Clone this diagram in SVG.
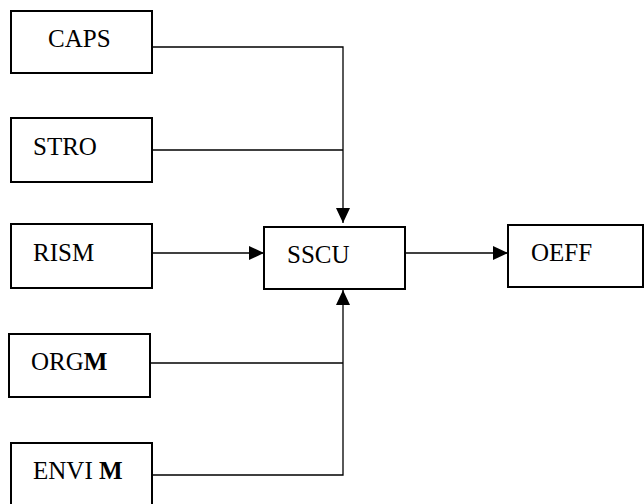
<svg xmlns="http://www.w3.org/2000/svg" width="644" height="504" viewBox="0 0 644 504">
<style>
.box{fill:#fff;stroke:#000;stroke-width:2}
.lbl{font-family:"Liberation Serif","Times New Roman",serif;font-size:25px;fill:#000}
.con{fill:none;stroke:#000;stroke-width:1.3}
</style>
<defs>
<marker id="ah" markerUnits="userSpaceOnUse" markerWidth="16" markerHeight="15" refX="15" refY="7" orient="auto">
<path d="M0,0 L15,7 L0,14 z" fill="#000"/>
</marker>
</defs>
<rect width="644" height="504" fill="#fff"/>
<g id="connectors">
<path class="con" d="M152 47 H343 V223" marker-end="url(#ah)"/>
<path class="con" d="M152 150 H343"/>
<path class="con" d="M152 253 H264" marker-end="url(#ah)"/>
<path class="con" d="M150 363 H343"/>
<path class="con" d="M152 475 H343 V290" marker-end="url(#ah)"/>
<path class="con" d="M405 253 H508" marker-end="url(#ah)"/>
</g>
<g id="caps"><rect class="box" x="11" y="11" width="141" height="62"/><text class="lbl" x="48" y="47">CAPS</text></g>
<g id="stro"><rect class="box" x="11" y="118" width="141" height="64"/><text class="lbl" x="33" y="155">STRO</text></g>
<g id="rism"><rect class="box" x="11" y="224" width="141" height="64"/><text class="lbl" x="33" y="261">RISM</text></g>
<g id="orgm"><rect class="box" x="9" y="334" width="141" height="63"/><text class="lbl" x="31" y="370">ORG<tspan font-weight="bold">M</tspan></text></g>
<g id="envim"><rect class="box" x="11" y="443" width="141" height="70"/><text class="lbl" x="33" y="479">ENVI <tspan font-weight="bold">M</tspan></text></g>
<g id="sscu"><rect class="box" x="264" y="227" width="141" height="62"/><text class="lbl" x="287" y="263">SSCU</text></g>
<g id="oeff"><rect class="box" x="508" y="225" width="135" height="62"/><text class="lbl" x="531" y="261">OEFF</text></g>
</svg>
